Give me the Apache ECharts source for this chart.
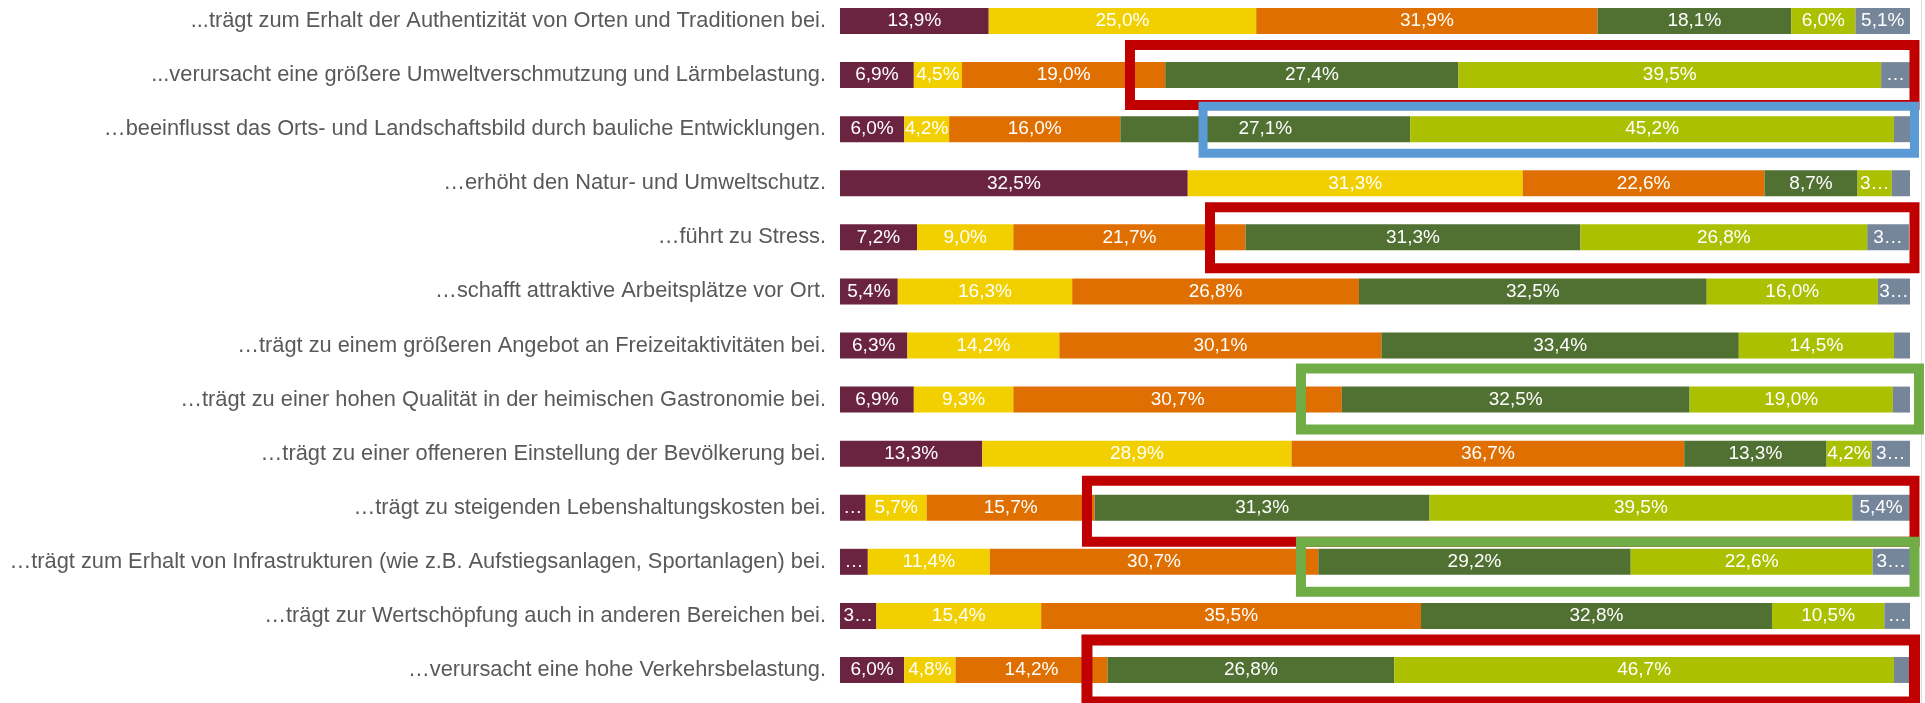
<!DOCTYPE html>
<html>
<head>
<meta charset="utf-8">
<script src="https://cdn.jsdelivr.net/npm/echarts@6/dist/echarts.min.js"></script>
<style>
  html, body { margin: 0; padding: 0; background: #ffffff; }
  #chart { width: 1925px; height: 703px; }
</style>
</head>
<body>
<div id="chart"></div>
<script>
// Statements (top to bottom)
const categories = [
  '...trägt zum Erhalt der Authentizität von Orten und Traditionen bei.',
  '...verursacht eine größere Umweltverschmutzung und Lärmbelastung.',
  '…beeinflusst das Orts- und Landschaftsbild durch bauliche Entwicklungen.',
  '…erhöht den Natur- und Umweltschutz.',
  '…führt zu Stress.',
  '…schafft attraktive Arbeitsplätze vor Ort.',
  '…trägt zu einem größeren Angebot an Freizeitaktivitäten bei.',
  '…trägt zu einer hohen Qualität in der heimischen Gastronomie bei.',
  '…trägt zu einer offeneren Einstellung der Bevölkerung bei.',
  '…trägt zu steigenden Lebenshaltungskosten bei.',
  '…trägt zum Erhalt von Infrastrukturen (wie z.B. Aufstiegsanlagen, Sportanlagen) bei.',
  '…trägt zur Wertschöpfung auch in anderen Bereichen bei.',
  '…verursacht eine hohe Verkehrsbelastung.'
];

// Answer shares in percent, one array per answer level
const level1 = [13.9, 6.9, 6.0, 32.5, 7.2, 5.4, 6.3, 6.9, 13.3, 2.4, 2.6, 3.4, 6.0];
const level2 = [25.0, 4.5, 4.2, 31.3, 9.0, 16.3, 14.2, 9.3, 28.9, 5.7, 11.4, 15.4, 4.8];
const level3 = [31.9, 19.0, 16.0, 22.6, 21.7, 26.8, 30.1, 30.7, 36.7, 15.7, 30.7, 35.5, 14.2];
const level4 = [18.1, 27.4, 27.1, 8.7, 31.3, 32.5, 33.4, 32.5, 13.3, 31.3, 29.2, 32.8, 26.8];
const level5 = [6.0, 39.5, 45.2, 3.2, 26.8, 16.0, 14.5, 19.0, 4.2, 39.5, 22.6, 10.5, 46.7];
const level6 = [5.1, 2.7, 1.5, 1.7, 3.9, 3.0, 1.5, 1.6, 3.6, 5.4, 3.5, 2.4, 1.5];

const levels = [level1, level2, level3, level4, level5, level6];
const levelNames = ['Stufe 1', 'Stufe 2', 'Stufe 3', 'Stufe 4', 'Stufe 5', 'Stufe 6'];
const levelColors = ['#6b243f', '#f2d000', '#df6f00', '#507132', '#abc000', '#76869a'];

// Highlight frames: row index, value range on the percent axis, vertical reach around the bar
const highlights = [
  { row: 1,  from: 27.1, to: 100.42, up: 30, down: 30, color: '#c00000', lw: 10 },
  { row: 2,  from: 33.93, to: 100.42, up: 23, down: 24, color: '#5b9bd5', lw: 9 },
  { row: 4,  from: 34.58, to: 100.42, up: 30, down: 31, color: '#c00000', lw: 10 },
  { row: 7,  from: 43.08, to: 100.84, up: 31, down: 30, color: '#70ad47', lw: 10 },
  { row: 9,  from: 23.08, to: 100.42, up: 27, down: 34, color: '#c00000', lw: 10 },
  { row: 10, from: 43.08, to: 100.42, up: 20, down: 30, color: '#70ad47', lw: 10 },
  { row: 12, from: 23.08, to: 100.42, up: 30, down: 32, color: '#c00000', lw: 11 }
];

const WIDTH = 1925;
const GRID_LEFT = 840;
const GRID_RIGHT = 15;
const PLOT_W = WIDTH - GRID_LEFT - GRID_RIGHT;
const FONT = 'Liberation Sans, Arial, sans-serif';
const VALUE_FONT_SIZE = 19;

function fmt(v) {
  return v.toFixed(1).replace('.', ',') + '%';
}

// Text measuring for the in-bar value labels
const measureCtx = document.createElement('canvas').getContext('2d');
measureCtx.font = VALUE_FONT_SIZE + 'px ' + FONT;
function textW(s) { return measureCtx.measureText(s).width; }

// Full value if it fits the segment, otherwise first digit + ellipsis, otherwise ellipsis only
function fittedLabel(v) {
  const room = v / 100 * PLOT_W - 1;
  const full = fmt(v);
  if (textW(full) <= room) return full;
  const short = full.charAt(0) + '…';
  if (textW(short) <= room) return short;
  if (textW('…') <= room) return '…';
  return '';
}

const chart = echarts.init(document.getElementById('chart'), null, { renderer: 'canvas' });

const option = {
  backgroundColor: '#ffffff',
  animation: false,
  grid: {
    left: GRID_LEFT,
    right: GRID_RIGHT,
    top: -6,
    bottom: 6,
    containLabel: false,
    outerBoundsMode: 'none'
  },
  xAxis: {
    type: 'value',
    min: 0,
    max: 100,
    show: false
  },
  yAxis: {
    type: 'category',
    inverse: true,
    data: categories,
    axisLine: { show: false },
    axisTick: { show: false },
    splitLine: { show: false },
    axisLabel: {
      margin: 14,
      color: '#595959',
      fontSize: 21.8,
      fontFamily: FONT
    }
  },
  series: levels.map((vals, i) => ({
    type: 'bar',
    name: levelNames[i],
    stack: 'total',
    barWidth: 26,
    itemStyle: { color: levelColors[i] },
    label: {
      show: true,
      position: 'inside',
      color: '#ffffff',
      fontSize: VALUE_FONT_SIZE,
      fontFamily: FONT,
      formatter: p => fittedLabel(p.value)
    },
    data: vals
  }))
};

chart.setOption(option);

// Frames are placed through the chart's own coordinate system
const frames = highlights.map(h => {
  const p1 = chart.convertToPixel({ gridIndex: 0 }, [h.from, h.row]);
  const p2 = chart.convertToPixel({ gridIndex: 0 }, [h.to, h.row]);
  return {
    type: 'rect',
    z: 100,
    shape: { x: p1[0], y: p1[1] - h.up, width: p2[0] - p1[0], height: h.up + h.down },
    style: { fill: null, stroke: h.color, lineWidth: h.lw }
  };
});

frames.unshift({
  type: 'line',
  z: 50,
  shape: { x1: 1921.5, y1: 0, x2: 1921.5, y2: 703 },
  style: { stroke: '#dddddd', lineWidth: 1 }
});

chart.setOption({ graphic: frames });
</script>
</body>
</html>
